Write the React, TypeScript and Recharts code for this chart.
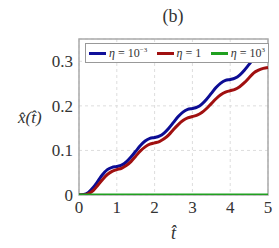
import React from "react";
import {
  LineChart,
  Line,
  CartesianGrid,
  XAxis,
  YAxis,
  ReferenceArea,
} from "recharts";

const times = [
  0, 0.125, 0.25, 0.375, 0.5, 0.625, 0.75, 0.875, 1, 1.125, 1.25, 1.375, 1.5,
  1.625, 1.75, 1.875, 2, 2.125, 2.25, 2.375, 2.5, 2.625, 2.75, 2.875, 3, 3.125,
  3.25, 3.375, 3.5, 3.625, 3.75, 3.875, 4, 4.125, 4.25, 4.375, 4.5, 4.625,
  4.75, 4.875, 5,
];

// eta = 1e-3
const etaSmall = [
  0, 0.001, 0.006, 0.017, 0.031, 0.046, 0.057, 0.062, 0.064, 0.067, 0.074,
  0.085, 0.098, 0.111, 0.121, 0.127, 0.129, 0.132, 0.139, 0.15, 0.163, 0.176,
  0.186, 0.192, 0.194, 0.197, 0.204, 0.215, 0.228, 0.241, 0.251, 0.257, 0.259,
  0.262, 0.269, 0.28, 0.293, 0.306, 0.316, 0.322, 0.324,
];

// eta = 1
const etaOne = [
  0, 0, 0.003, 0.01, 0.022, 0.035, 0.046, 0.053, 0.057, 0.06, 0.066, 0.075,
  0.087, 0.099, 0.108, 0.114, 0.117, 0.12, 0.126, 0.135, 0.147, 0.158, 0.167,
  0.173, 0.176, 0.179, 0.185, 0.194, 0.205, 0.216, 0.225, 0.231, 0.234, 0.237,
  0.243, 0.252, 0.263, 0.274, 0.28, 0.284, 0.286,
];

// eta = 1e3
const etaLarge = times.map(() => 0);

const xTicks = [0, 1, 2, 3, 4, 5];
const yTicks = [0, 0.1, 0.2, 0.3];

const data = times.map((t, i) => ({
  t,
  a: etaSmall[i],
  b: etaOne[i],
  c: etaLarge[i],
}));

const serif = "Liberation Serif, DejaVu Serif, serif";
const textColor = "#333";

const legendItems = [
  { color: "#10109a", base: "10", exp: "−3" },
  { color: "#a01010", base: "1", exp: "" },
  { color: "#20a020", base: "10", exp: "3" },
];

function LegendBox() {
  return (
    <div
      style={{
        position: "absolute",
        left: 85,
        top: 43,
        display: "flex",
        alignItems: "center",
        justifyContent: "space-between",
        width: 184,
        border: "1px solid #999",
        background: "#fff",
        padding: "0 3px",
        height: 20,
        boxSizing: "border-box",
        fontSize: 12,
        color: textColor,
        whiteSpace: "nowrap",
      }}
    >
      {legendItems.map((it, i) => (
        <span key={i} style={{ display: "flex", alignItems: "center" }}>
          <span
            style={{
              display: "inline-block",
              width: 17,
              height: 3,
              background: it.color,
              marginRight: 3,
            }}
          />
          <span>
            <i>η</i> = {it.base}
            {it.exp && <sup style={{ fontSize: 7 }}>{it.exp}</sup>}
          </span>
        </span>
      ))}
    </div>
  );
}

export default function App() {
  return (
    <div
      style={{
        position: "absolute",
        left: 0,
        top: 0,
        width: 279,
        height: 248,
        background: "#fff",
        fontFamily: serif,
      }}
    >
      <div
        style={{
          position: "absolute",
          left: 148,
          top: 6,
          width: 50,
          textAlign: "center",
          fontSize: 18,
          color: textColor,
        }}
      >
        (b)
      </div>
      <LineChart
        width={279}
        height={248}
        data={data}
        margin={{ top: 39, right: 11, bottom: 0, left: 0 }}
        style={{ fontFamily: serif }}
      >
        <CartesianGrid stroke="#ddd" strokeDasharray="3 3" />
        <XAxis
          dataKey="t"
          type="number"
          domain={[0, 5]}
          ticks={xTicks}
          height={53}
          axisLine={false}
          tickLine={false}
          tickSize={0}
          tick={{ fontFamily: serif, fontSize: 17, fill: textColor }}
          tickMargin={6}
          label={{
            value: "t̂",
            position: "insideBottom",
            offset: 9,
            style: { fontFamily: serif, fontSize: 18, fontStyle: "italic", fill: textColor },
          }}
        />
        <YAxis
          type="number"
          domain={[0, 0.35]}
          allowDataOverflow
          ticks={yTicks}
          width={79}
          axisLine={false}
          tickLine={false}
          tickSize={0}
          tickFormatter={(v) => String(v)}
          tick={{ fontFamily: serif, fontSize: 17, fill: textColor }}
          tickMargin={6}
          label={{
            value: "x̂(t̂)",
            position: "insideLeft",
            offset: 18,
            style: { fontFamily: serif, fontSize: 17, fontStyle: "italic", fill: textColor, textAnchor: "start" },
          }}
        />
        <ReferenceArea
          x1={0}
          x2={5}
          y1={0}
          y2={0.35}
          fill="none"
          stroke="#aaa"
          strokeWidth={1.5}
        />
        <Line
          dataKey="a"
          stroke="#0c0c94"
          strokeWidth={3}
          dot={false}
          type="monotone"
          isAnimationActive={false}
        />
        <Line
          dataKey="b"
          stroke="#a01010"
          strokeWidth={3}
          dot={false}
          type="monotone"
          isAnimationActive={false}
        />
        <Line
          dataKey="c"
          stroke="#20a020"
          strokeWidth={3}
          dot={false}
          type="monotone"
          isAnimationActive={false}
        />
      </LineChart>
      <LegendBox />
    </div>
  );
}
